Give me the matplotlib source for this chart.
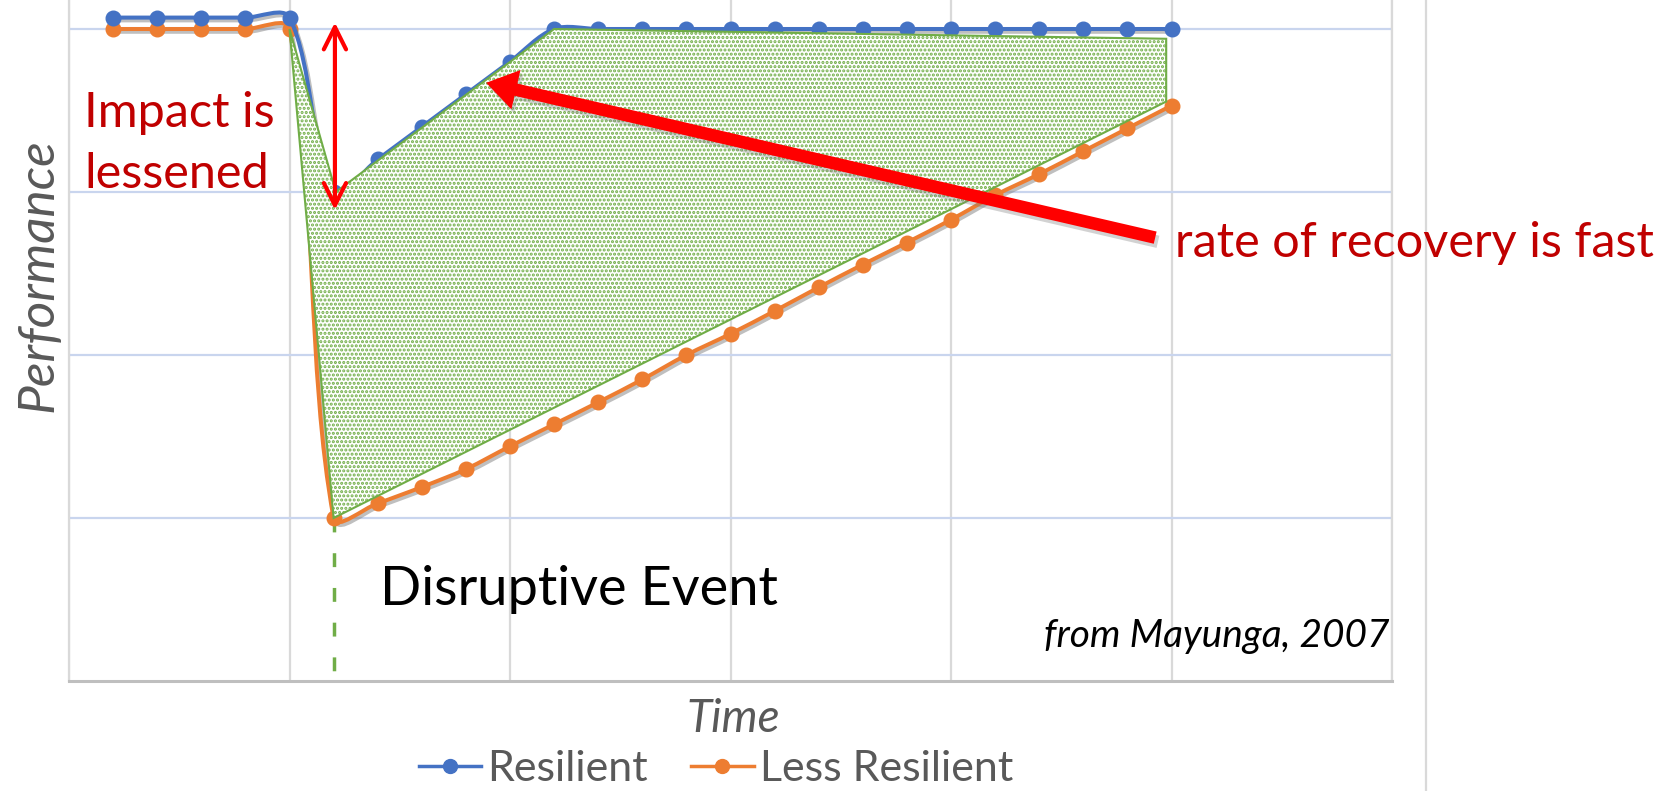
import numpy as np
import matplotlib
matplotlib.use('Agg')
import matplotlib.pyplot as plt
import matplotlib.patheffects as pe
from matplotlib.path import Path
from matplotlib.patches import PathPatch, Polygon, FancyArrowPatch
from matplotlib.lines import Line2D

# values
periods = list(range(1, 26))
resilient = [4.07, 4.07, 4.07, 4.07, 4.07,
             3.0, 3.2, 3.4, 3.6, 3.8,
             4.0, 4.0, 4.0, 4.0, 4.0, 4.0, 4.0, 4.0, 4.0, 4.0, 4.0, 4.0, 4.0, 4.0, 4.0]
less_resilient = [4.0, 4.0, 4.0, 4.0, 4.0,
                  1.0, 1.09, 1.19, 1.3, 1.44, 1.575, 1.71, 1.85, 2.0, 2.13,
                  2.27, 2.415, 2.555, 2.69, 2.83, 2.98, 3.11, 3.25, 3.39, 3.53]
series_labels = ['Resilient', 'Less Resilient']

# shaded gap between the two recovery paths
gap_x = [5, 6, 24.88, 24.88, 11, 6.05]
gap_y = [4.0, 1.0, 3.555, 3.94, 4.0, 3.0]

event_time = 6
impact_top, impact_bottom = 4.04, 2.89
arrow_tail = (24.63, 2.72)
arrow_head = (9.46, 3.67)

BLUE = '#4472C4'
ORANGE = '#ED7D31'
GREEN = '#70AD47'
RED = '#FF0000'
DARK_RED = '#C00000'
GRAY_TXT = '#595959'

W, H = 1669, 791


def fx(px):
    return px / W


def fy(py):
    return 1 - py / H


def excel_smooth(ax, xs, ys):
    # bezier smoothing like excel's "smoothed line", built in pixel space
    pts = ax.transData.transform(np.column_stack([xs, ys]))
    n = len(pts)
    verts = [pts[0]]
    codes = [Path.MOVETO]
    for i in range(n - 1):
        p0 = pts[i - 1] if i > 0 else pts[i]
        p1, p2 = pts[i], pts[i + 1]
        p3 = pts[i + 2] if i + 2 < n else pts[i + 1]
        d01 = np.hypot(*(p1 - p0))
        d12 = np.hypot(*(p2 - p1))
        d23 = np.hypot(*(p3 - p2))
        c1 = p1 + (p2 - p0) * d12 / (d01 + d12) / 3
        c2 = p2 - (p3 - p1) * d12 / (d12 + d23) / 3
        verts += [c1, c2, p2]
        codes += [Path.CURVE4] * 3
    verts = ax.transData.inverted().transform(np.array(verts))
    return Path(verts, codes)


plt.rcParams['hatch.linewidth'] = 1.5

fig = plt.figure(figsize=(W / 100, H / 100), dpi=100)
ax = fig.add_axes([fx(69), fy(681), (1392 - 69) / W, 681 / H])
ax.set_xlim(0, 30)
ax.set_ylim(0, 681 / 163)

ax.set_xticks(range(0, 31, 5))
ax.set_yticks([1, 2, 3, 4])
ax.grid(axis='x', color='#D9D9D9', lw=1.6, zorder=0)
ax.grid(axis='y', color='#C9D5EE', lw=1.6, zorder=0)
ax.tick_params(length=0, labelbottom=False, labelleft=False)
ax.set_axisbelow(True)
ax.spines['top'].set_visible(False)
for s in ['left', 'right']:
    ax.spines[s].set_color('#D9D9D9')
    ax.spines[s].set_linewidth(1.6)
ax.spines['bottom'].set_color('#BFBFBF')
ax.spines['bottom'].set_linewidth(2.2)

# disruptive event marker
ax.plot([event_time, event_time], [less_resilient[event_time - 1], 0], color=GREEN, lw=2.5,
        dashes=(4, 6), zorder=2, clip_on=False)

shadow = [pe.SimpleLineShadow(offset=(1.5, -2), shadow_color='#808080', alpha=0.5), pe.Normal()]
for vals, col in [(less_resilient, ORANGE), (resilient, BLUE)]:
    line = PathPatch(excel_smooth(ax, periods, vals), fill=False, edgecolor=col, lw=2.9,
                     capstyle='round', joinstyle='round', zorder=3, path_effects=shadow)
    ax.add_patch(line)
    ax.plot(periods, vals, 'o', color=col, ms=10.5, zorder=3, clip_on=False)

gap = Polygon(np.column_stack([gap_x, gap_y]), closed=True, facecolor='white',
              edgecolor=GREEN, hatch='....', lw=1.5, zorder=4)
ax.add_patch(gap)

# impact arrow
ax.annotate('', xy=(event_time + 0.03, impact_bottom), xytext=(event_time + 0.03, impact_top),
            arrowprops=dict(arrowstyle='<->', color=RED, lw=3, mutation_scale=40,
                            shrinkA=0, shrinkB=0), zorder=6)

# recovery arrow
rec = FancyArrowPatch(arrow_tail, arrow_head,
                      arrowstyle='simple,head_width=29,head_length=22,tail_width=9',
                      mutation_scale=1, color=RED, lw=0, shrinkA=0, shrinkB=0, zorder=6,
                      path_effects=[pe.SimplePatchShadow(offset=(2, -3), shadow_rgbFace='#7F7F7F',
                                                         alpha=0.35), pe.Normal()])
ax.add_patch(rec)

fig.text(fx(84), fy(127), 'Impact is', family='Lato', size=35, color=DARK_RED, va='baseline')
fig.text(fx(84), fy(188), 'lessened', family='Lato', size=35, color=DARK_RED, va='baseline')
fig.text(fx(1175), fy(257), 'rate of recovery is fast', family='Lato', size=35,
         color=DARK_RED, va='baseline')
fig.text(fx(380), fy(605), 'Disruptive Event', family='Lato', size=39, color='black',
         va='baseline')
fig.text(fx(1389), fy(647), 'from Mayunga, 2007', family='Lato', size=28, style='italic',
         color='black', ha='right', va='baseline')
fig.text(fx(733), fy(732), 'Time', family='Lato', size=33, style='italic', color=GRAY_TXT,
         ha='center', va='baseline')
fig.text(fx(38), fy(275), 'Performance', family='Lato', size=37, style='italic',
         color=GRAY_TXT, ha='center', va='center', rotation=90)

handles = [Line2D([], [], color=BLUE, lw=2.5, marker='o', ms=10),
           Line2D([], [], color=ORANGE, lw=2.5, marker='o', ms=10)]
fig.legend(handles, series_labels, loc='center', bbox_to_anchor=(fx(716), fy(769)), ncol=2,
           frameon=False, prop=dict(family='Lato', size=31), labelcolor=GRAY_TXT,
           handlelength=1.45, handletextpad=0.15, columnspacing=1.0)

# chart area border on the right
fig.add_artist(Line2D([fx(1426), fx(1426)], [0, 1], color='#D9D9D9', lw=1.6))

fig.savefig('out.png', dpi=100, facecolor='white')
